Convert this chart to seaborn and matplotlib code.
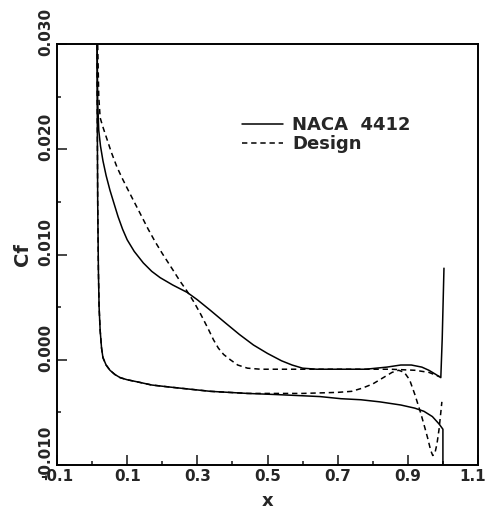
import numpy as np
import pandas as pd
import matplotlib
matplotlib.use('Agg')
import matplotlib.pyplot as plt
import matplotlib.transforms as mtransforms
import seaborn as sns

# NACA 4412 - suction side (upper branch)
naca_up_x = [0.0135, 0.0145, 0.016, 0.019, 0.024, 0.031, 0.040, 0.051, 0.062, 0.074, 0.087,
             0.100, 0.120, 0.146, 0.170, 0.194, 0.230, 0.271, 0.300, 0.337, 0.380, 0.420,
             0.460, 0.500, 0.540, 0.570, 0.600, 0.640, 0.700, 0.780, 0.840, 0.880, 0.910,
             0.940, 0.960, 0.980, 0.994, 0.998, 1.003]
naca_up_y = [0.0400, 0.0300, 0.0245, 0.0218, 0.0203, 0.0189, 0.0175, 0.0161, 0.0149, 0.0136,
             0.0124, 0.0114, 0.0103, 0.0092, 0.0084, 0.0078, 0.0071, 0.0064, 0.0057, 0.0047,
             0.0035, 0.0024, 0.0014, 0.0006, -0.0001, -0.0005, -0.0008, -0.0009, -0.0009,
             -0.0009, -0.0007, -0.0005, -0.0005, -0.0007, -0.0010, -0.0014, -0.0017, 0.0020,
             0.0087]

# NACA 4412 - pressure side (lower branch)
naca_lo_x = [0.0130, 0.0145, 0.016, 0.018, 0.020, 0.023, 0.027, 0.031, 0.040, 0.051, 0.065,
             0.080, 0.100, 0.129, 0.170, 0.223, 0.280, 0.337, 0.443, 0.520, 0.586, 0.650,
             0.709, 0.766, 0.820, 0.880, 0.920, 0.946, 0.970, 0.989, 1.000, 1.000]
naca_lo_y = [0.0400, 0.0250, 0.0150, 0.0085, 0.0050, 0.0028, 0.0011, 0.0002, -0.0005,
             -0.0010, -0.0014, -0.0017, -0.0019, -0.0021, -0.0024, -0.0026, -0.0028,
             -0.0030, -0.0032, -0.0033, -0.0034, -0.0035, -0.0037, -0.0038, -0.0040,
             -0.0043, -0.0046, -0.0049, -0.0054, -0.0061, -0.0066, -0.0120]

# Design - suction side
des_up_x = [0.0140, 0.016, 0.019, 0.023, 0.030, 0.043, 0.055, 0.071, 0.085, 0.100, 0.120,
            0.137, 0.160, 0.180, 0.200, 0.231, 0.250, 0.271, 0.290, 0.310, 0.330, 0.346,
            0.360, 0.375, 0.394, 0.415, 0.443, 0.480, 0.600, 0.750, 0.850, 0.920, 0.960,
            0.990]
des_up_y = [0.0400, 0.0300, 0.0250, 0.0230, 0.0222, 0.0209, 0.0197, 0.0183, 0.0173, 0.0163,
            0.0150, 0.0139, 0.0124, 0.0112, 0.0101, 0.0085, 0.0075, 0.0065, 0.0055, 0.0043,
            0.0030, 0.0019, 0.0011, 0.0005, 0.0000, -0.0005, -0.0008, -0.0009, -0.0009,
            -0.0009, -0.0009, -0.0010, -0.0012, -0.0016]

# Design - pressure side
des_lo_x = [0.0130, 0.0145, 0.016, 0.018, 0.020, 0.023, 0.027, 0.031, 0.040, 0.051, 0.065,
            0.080, 0.100, 0.129, 0.170, 0.223, 0.280, 0.337, 0.443, 0.500, 0.600, 0.700,
            0.740, 0.770, 0.800, 0.830, 0.855, 0.874, 0.890, 0.905, 0.920, 0.937, 0.948,
            0.957, 0.965, 0.971, 0.977, 0.983, 0.989, 0.994, 0.997]
des_lo_y = [0.0400, 0.0250, 0.0150, 0.0085, 0.0050, 0.0028, 0.0011, 0.0002, -0.0005,
            -0.0010, -0.0014, -0.0017, -0.0019, -0.0021, -0.0024, -0.0026, -0.0028,
            -0.0030, -0.0032, -0.0032, -0.0032, -0.0031, -0.0030, -0.0027, -0.0023,
            -0.0017, -0.0012, -0.0010, -0.0012, -0.0019, -0.0033, -0.0051, -0.0064,
            -0.0075, -0.0086, -0.0091, -0.0089, -0.0080, -0.0066, -0.0050, -0.0040]

x_ticks = [-0.1, 0.1, 0.3, 0.5, 0.7, 0.9, 1.1]
x_ticklabels = ['-0.1', '0.1', '0.3', '0.5', '0.7', '0.9', '1.1']
y_ticks = [-0.010, 0.000, 0.010, 0.020, 0.030]
y_ticklabels = ['-0.010', '0.000', '0.010', '0.020', '0.030']

sns.set_style('ticks')
plt.rcParams['font.family'] = ['DejaVu Sans']
plt.rcParams['font.weight'] = 'bold'

fig = plt.figure(figsize=(4.86, 5.14), dpi=100)
ax = fig.add_axes([57 / 486, 49 / 514, 421 / 486, 421 / 514])

solid_kw = dict(color='black', linewidth=1.1, sort=False, estimator=None, ax=ax)
dash_kw = dict(color='black', linewidth=1.1, sort=False, estimator=None, ax=ax,
               linestyle=(0, (3.5, 2.5)))

sns.lineplot(x=naca_up_x, y=naca_up_y, label='NACA  4412', **solid_kw)
sns.lineplot(x=naca_lo_x, y=naca_lo_y, **solid_kw)
sns.lineplot(x=des_up_x, y=des_up_y, label='Design', **dash_kw)
sns.lineplot(x=des_lo_x, y=des_lo_y, **dash_kw)

ax.set_xlim(-0.1, 1.1)
ax.set_ylim(-0.010, 0.030)
ax.set_xticks(x_ticks)
ax.set_xticklabels(x_ticklabels)
ax.set_xticks(np.arange(0.0, 1.01, 0.2), minor=True)
ax.set_yticks(y_ticks)
ax.set_yticklabels(y_ticklabels, rotation=90, va='center')
ax.set_yticks(np.arange(-0.005, 0.030, 0.010), minor=True)

ax.tick_params(which='both', direction='in', top=False, right=False,
               labelsize=11, width=1.2)
ax.tick_params(which='major', length=7, pad=3)
ax.tick_params(which='minor', length=3)
for lab in ax.get_yticklabels():
    lab.set_transform(lab.get_transform() +
                      mtransforms.ScaledTranslation(0, 12 / 100, fig.dpi_scale_trans))
    lab.set_fontweight('bold')
for lab in ax.get_xticklabels():
    lab.set_fontweight('bold')
last = ax.get_xticklabels()[-1]
last.set_transform(last.get_transform() +
                   mtransforms.ScaledTranslation(-5 / 100, 0, fig.dpi_scale_trans))

for sp in ax.spines.values():
    sp.set_linewidth(1.4)
    sp.set_color('black')

ax.set_xlabel('x', fontsize=13, fontweight='bold', labelpad=6)
ax.set_ylabel('Cf', fontsize=14, fontweight='bold', labelpad=4)

ax.legend(loc='upper left', bbox_to_anchor=(0.417, 0.85), frameon=False,
          handlelength=2.3, handletextpad=0.5, labelspacing=0.05,
          borderpad=0, prop={'weight': 'bold', 'size': 13})

fig.savefig('out.png', dpi=100)
